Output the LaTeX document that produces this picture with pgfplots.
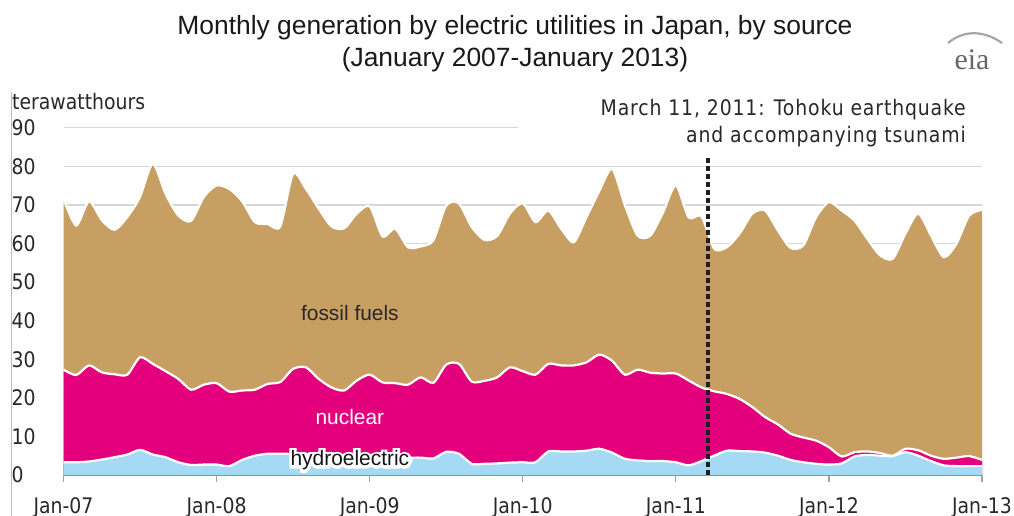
\documentclass[border=0pt]{standalone}
\usepackage{fontspec}
\setmainfont{Liberation Sans}
\newfontfamily\dejavu[FakeStretch=0.88]{DejaVu Sans}
\newfontfamily\annfont[FakeStretch=0.88, LetterSpace=4]{DejaVu Sans}
\newfontfamily\seriffont{Liberation Serif}
\usepackage{pgfplots}
\pgfplotsset{compat=1.18}
\usepackage{pgfplotstable}

\definecolor{fossil}{RGB}{200,159,99}
\definecolor{nuclear}{RGB}{228,0,124}
\definecolor{hydro}{RGB}{166,218,244}
\definecolor{gridgray}{RGB}{215,215,215}
\definecolor{axisgray}{RGB}{160,160,165}
\definecolor{axisblue}{RGB}{110,155,190}
\definecolor{txt}{RGB}{40,40,40}

% m = months since Jan 2007; H = hydro, N = hydro+nuclear, T = total (TWh)
\pgfplotstableread{
m  H    N     T
0  3.3  27.3  71.5
1  3.3  25.9  64.6
2  3.5  28.4  70.9
3  4.0  26.6  66.0
4  4.6  26.1  63.5
5  5.3  26.0  66.8
6  6.5  30.5  72.0
7  5.3  28.8  80.6
8  4.6  26.9  72.8
9  3.3  24.9  67.2
10 2.6  22.1  65.8
11 2.7  23.4  72.0
12 2.7  23.8  75.0
13 2.3  21.6  74.1
14 3.9  21.9  70.9
15 5.0  22.1  65.5
16 5.5  23.6  65.0
17 5.5  24.1  64.4
18 5.5  27.5  78.0
19 5.4  27.9  74.1
20 5.2  24.9  69.0
21 5.0  22.7  64.4
22 4.9  21.9  63.9
23 4.8  24.5  67.7
24 4.6  26.0  69.6
25 4.6  24.0  61.8
26 4.6  23.8  63.8
27 4.5  23.4  59.0
28 4.5  25.3  59.2
29 4.3  23.9  60.8
30 6.0  28.6  69.8
31 5.5  28.8  70.3
32 2.9  24.2  64.2
33 2.9  24.4  60.9
34 3.0  25.3  61.9
35 3.2  27.9  67.7
36 3.3  26.9  70.4
37 3.3  26.0  65.5
38 6.1  28.8  68.5
39 6.1  28.4  63.8
40 6.1  28.4  60.3
41 6.3  29.2  66.8
42 6.8  31.2  73.5
43 5.8  29.6  79.3
44 4.2  26.0  69.9
45 3.8  27.3  62.0
46 3.6  26.5  62.0
47 3.6  26.3  68.0
48 3.3  26.3  75.0
49 2.5  24.5  66.7
50 3.6  22.7  67.0
51 5.0  21.7  58.6
52 6.3  21.0  59.0
53 6.2  19.7  62.5
54 6.1  17.6  67.7
55 5.8  15.0  68.5
56 5.0  13.1  63.3
57 3.9  10.7  58.8
58 3.3  9.7   59.5
59 2.9  8.9   66.8
60 2.7  7.2   70.7
61 3.0  4.8   68.5
62 4.8  5.9   65.9
63 5.2  6.1   61.2
64 5.0  5.7   56.9
65 4.9  5.0   56.0
66 5.9  6.8   62.5
67 5.0  6.4   67.7
68 3.6  5.0   62.0
69 2.5  4.2   56.4
70 2.3  4.5   59.9
71 2.3  4.9   67.2
72 2.3  3.9   68.7
}\gen

\newcommand{\axfont}{\dejavu\fontsize{21.5}{25}\selectfont}
\newcommand{\lblfont}{\fontsize{21}{25}\selectfont}
% text drawn filled and stroked (PDF text render mode 2) with a given stroke width
\newcommand{\stroketext}[2]{\special{pdf:literal q 2 Tr #1 w}#2\special{pdf:literal 0 Tr Q}}

\begin{document}
\begin{tikzpicture}[x=1bp,y=1bp]
\path[use as bounding box] (0,0) rectangle (1014,516);
\draw[axisgray!70, line width=1bp] (11,0) -- (11,424);

\node[font=\fontsize{26.5}{30}\selectfont, text=black!90] at (515,488) {Monthly generation by electric utilities in Japan, by source};
\node[font=\fontsize{26.5}{30}\selectfont, text=black!90] at (515,456) {(January 2007-January 2013)};
\node[anchor=west, inner sep=0, font=\axfont, text=txt] at (12,414) {terawatthours};

% eia logo
\node[font=\seriffont\fontsize{30}{32}\selectfont, text=black!60] at (972,456) {eia};
\draw[black!35, line width=2.2bp] (948,473) .. controls (965,487) and (985,485) .. (1002,473);

\begin{axis}[
  at={(63.5bp,41bp)}, anchor=south west,
  scale only axis, width=918.5bp, height=347.3bp,
  xmin=0, xmax=72, ymin=0, ymax=90,
  clip=false,
  axis x line*=bottom, axis y line*=left,
  y axis line style={draw=none},
  x axis line style={color=axisblue, line width=1.4bp},
  xtick={0,12,24,36,48,60,72},
  xticklabels={Jan-07,Jan-08,Jan-09,Jan-10,Jan-11,Jan-12,Jan-13},
  ytick={0,10,...,90},
  xtick style={color=axisgray, line width=1.2bp},
  ytick style={draw=none},
  tick align=outside, major tick length=7bp,
  ymajorgrids, major grid style={color=gridgray, line width=1.3bp},
  ticklabel style={font=\axfont, text=txt},
  xticklabel style={yshift=-12bp},
  yticklabel style={anchor=west, inner sep=0pt, xshift=-45bp},
  /pgf/number format/assume math mode=true,
  every axis plot/.append style={smooth, tension=0.45},
]
\addplot[fill=fossil, draw=none] table[x=m, y=T] {\gen} \closedcycle;
\addplot[white, line width=2bp] table[x=m, y=T] {\gen};
\addplot[fill=nuclear, draw=none] table[x=m, y=N] {\gen} \closedcycle;
\addplot[white, line width=2.2bp] table[x=m, y=N] {\gen};
\addplot[fill=hydro, draw=none] table[x=m, y=H] {\gen} \closedcycle;
\addplot[white, line width=2.2bp] table[x=m, y=H] {\gen};

% earthquake marker
\addplot[sharp plot, line width=4bp, color=black!88, dash pattern=on 4.5bp off 3.5bp] coordinates {(50.55,0) (50.55,82.3)};

\fill[white] (axis cs:35.6,87.8) rectangle (axis cs:72.5,92);

\node[font=\lblfont, text=txt] at (axis cs:22.45,42.1) {fossil fuels};
\node[font=\lblfont, text=white] at (axis cs:22.45,14.9) {nuclear};
\coordinate (hy) at (axis cs:22.45,3.75);
\end{axis}

% white halo behind the hydroelectric label
\node[font=\lblfont, text=white] at (hy) {\stroketext{5.5}{hydroelectric}};
\node[font=\lblfont, text=black!92] at (hy) {hydroelectric};

\node[anchor=east, inner sep=0, font=\annfont\fontsize{21.5}{25}\selectfont, text=txt] at (966,406) {March 11, 2011: Tohoku earthquake};
\node[anchor=east, inner sep=0, font=\annfont\fontsize{21.5}{25}\selectfont, text=txt] at (966,379) {and accompanying tsunami};
\end{tikzpicture}
\end{document}
